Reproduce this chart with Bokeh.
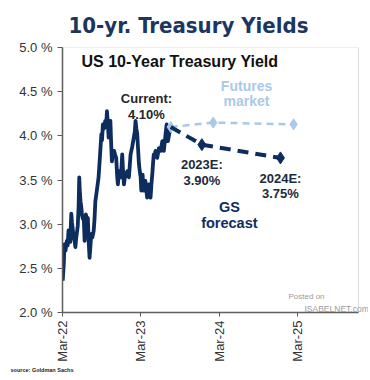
import pandas as pd
from bokeh.plotting import figure
from bokeh.models import (Range1d, FixedTicker, DatetimeTickFormatter, PrintfTickFormatter,
                          Label, ColumnDataSource, Title, BoxAnnotation)
from bokeh.embed import file_html
from bokeh.resources import INLINE
from math import pi

# ---------------- data ----------------
hist_dates = [
    "2022-03-02", "2022-03-07", "2022-03-10", "2022-03-15", "2022-03-21", "2022-03-25",
    "2022-03-29", "2022-04-02", "2022-04-06", "2022-04-11", "2022-04-14", "2022-04-17",
    "2022-04-22", "2022-04-27", "2022-04-30", "2022-05-04", "2022-05-07", "2022-05-11",
    "2022-05-15", "2022-05-18", "2022-05-21", "2022-05-24", "2022-05-28", "2022-05-31",
    "2022-06-04", "2022-06-08", "2022-06-12", "2022-06-15", "2022-06-18", "2022-06-22",
    "2022-06-27", "2022-07-01", "2022-07-05", "2022-07-09", "2022-07-13", "2022-07-18",
    "2022-07-24", "2022-07-28", "2022-08-01", "2022-08-08", "2022-08-16", "2022-08-22",
    "2022-08-29", "2022-09-01", "2022-09-05", "2022-09-10", "2022-09-16", "2022-09-20",
    "2022-09-24", "2022-09-28", "2022-10-02", "2022-10-06", "2022-10-10", "2022-10-13",
    "2022-10-17", "2022-10-22", "2022-10-27", "2022-11-02", "2022-11-06", "2022-11-11",
    "2022-11-14", "2022-11-19", "2022-11-27", "2022-12-01", "2022-12-04", "2022-12-08",
    "2022-12-12", "2022-12-16", "2022-12-20", "2022-12-28", "2023-01-04", "2023-01-08",
    "2023-01-12", "2023-01-20", "2023-01-27", "2023-02-01", "2023-02-04", "2023-02-08",
    "2023-02-12", "2023-02-16", "2023-02-20", "2023-02-24", "2023-02-28", "2023-03-03",
    "2023-03-09", "2023-03-14", "2023-03-18", "2023-03-22", "2023-03-26", "2023-03-30",
    "2023-04-03", "2023-04-07", "2023-04-11", "2023-04-15", "2023-04-19", "2023-04-23",
    "2023-04-27", "2023-04-30", "2023-05-04", "2023-05-08", "2023-05-16", "2023-05-24",
    "2023-06-01", "2023-06-09", "2023-06-16", "2023-06-24", "2023-06-29", "2023-07-05",
    "2023-07-13", "2023-07-18",
]
hist_yield = [
    2.36, 2.55, 2.77, 2.70, 2.81, 2.76,
    2.93, 2.84, 2.80, 3.12, 3.02, 2.96,
    2.85, 2.80, 2.74, 2.85, 2.90, 2.98,
    3.20, 3.53, 3.35, 3.26, 3.18, 3.10,
    3.06, 3.07, 2.81, 2.95, 3.11, 3.05,
    3.07, 2.80, 2.62, 2.75, 2.89, 2.85,
    2.92, 3.05, 3.26, 3.38, 3.53, 3.75,
    4.02, 3.95, 4.13, 4.08, 4.17, 4.10,
    4.28, 4.15, 3.98, 4.10, 4.17, 3.95,
    3.71, 3.80, 3.83, 3.78, 3.75, 3.53,
    3.45, 3.60, 3.53, 3.65, 3.79, 3.60,
    3.45, 3.52, 3.56, 3.60, 3.53, 3.65,
    3.79, 3.88, 3.98, 4.05, 4.17, 4.08,
    4.02, 3.85, 3.68, 3.60, 3.53, 3.38,
    3.56, 3.38, 3.44, 3.49, 3.40, 3.30,
    3.40, 3.45, 3.36, 3.30, 3.45, 3.56,
    3.70, 3.79, 3.76, 3.83, 3.75, 3.86,
    3.83, 3.94, 3.83, 4.02, 4.13, 3.94,
    4.05, 4.10,
]

futures_dates = ["2023-07-18", "2024-02-01", "2025-02-09"]
futures_yield = [4.10, 4.15, 4.13]

gs_dates = ["2023-07-18", "2023-12-10", "2024-12-10"]
gs_yield = [4.10, 3.90, 3.75]

tick_dates = ["2022-03-01", "2023-03-01", "2024-03-01", "2025-03-01"]
y_ticks = [2.0, 2.5, 3.0, 3.5, 4.0, 4.5, 5.0]

X_START, X_BOX_END, X_END = "2022-03-01", "2025-12-08", "2026-01-24"


def ms(d):
    return pd.Timestamp(d).timestamp() * 1000.0


NAVY = "#0e2d5f"
LIGHT = "#a9c9ea"
FONT = "Liberation Sans"

p = figure(width=368, height=378, x_axis_type="datetime", output_backend="svg",
           toolbar_location=None,
           x_range=Range1d(ms(X_START), ms(X_END)),
           y_range=Range1d(2.0, 5.0),
           min_border_left=62, min_border_right=0, min_border_top=46, min_border_bottom=66)

p.title = Title(text="10-yr. Treasury Yields", align="left", offset=6,
                text_font="DejaVu Sans Condensed, Liberation Sans", text_font_size="22px",
                text_font_style="bold", text_color="#1b365f", standoff=20)

p.add_layout(Title(text="source: Goldman Sachs", align="left", offset=-52,
                   text_font=FONT, text_font_size="5.5px", text_font_style="bold",
                   text_color="#222222", standoff=0), "below")

p.grid.visible = False
p.outline_line_color = None
p.background_fill_color = "white"
p.border_fill_color = "white"

# frame box (stops before the watermark area on the right)
p.add_layout(BoxAnnotation(left=ms(X_START), right=ms(X_BOX_END), bottom=2.0, top=5.0,
                           fill_alpha=0, line_color="#8c8c8c", line_width=1))

# axes
p.xaxis.ticker = FixedTicker(ticks=[ms(d) for d in tick_dates])
fmt = "%b-%y"
p.xaxis.formatter = DatetimeTickFormatter(years=fmt, months=fmt, days=fmt, hours=fmt,
                                          minutes=fmt, seconds=fmt, milliseconds=fmt,
                                          microseconds=fmt, minsec=fmt, hourmin=fmt)
p.xaxis.major_label_orientation = pi / 2
p.xaxis.major_label_text_font = FONT
p.xaxis.major_label_text_font_size = "13px"
p.xaxis.major_label_text_color = "#333333"
p.xaxis.major_tick_out = 4
p.xaxis.major_tick_in = 0
p.xaxis.minor_tick_out = 0
p.xaxis.minor_tick_in = 0
p.xaxis.major_label_standoff = 4
p.xaxis.axis_line_color = "#595959"
p.xaxis.axis_line_width = 1.5
p.xaxis.major_tick_line_color = "#595959"
p.xaxis.bounds = (ms(X_START), ms(X_BOX_END))

p.yaxis.ticker = FixedTicker(ticks=y_ticks)
p.yaxis.formatter = PrintfTickFormatter(format="%.1f %%")
p.yaxis.major_label_text_font = FONT
p.yaxis.major_label_text_font_size = "13px"
p.yaxis.major_label_text_color = "#333333"
p.yaxis.major_tick_out = 5
p.yaxis.major_tick_in = 0
p.yaxis.minor_tick_out = 0
p.yaxis.minor_tick_in = 0
p.yaxis.major_label_standoff = 5
p.yaxis.axis_line_color = "#595959"
p.yaxis.axis_line_width = 1.5
p.yaxis.major_tick_line_color = "#595959"

# series
hist = ColumnDataSource(dict(x=pd.to_datetime(hist_dates), y=hist_yield))
p.line("x", "y", source=hist, line_color=NAVY, line_width=3.8, line_join="round")

fut = ColumnDataSource(dict(x=pd.to_datetime(futures_dates), y=futures_yield))
p.line("x", "y", source=fut, line_color=LIGHT, line_width=2.5, line_dash="7 5")
p.scatter("x", "y", source=fut, marker="diamond", size=11, fill_color=LIGHT, line_color=LIGHT)

gs = ColumnDataSource(dict(x=pd.to_datetime(gs_dates[1:]), y=gs_yield[1:]))
gsl = ColumnDataSource(dict(x=pd.to_datetime(gs_dates), y=gs_yield))
p.line("x", "y", source=gsl, line_color=NAVY, line_width=4, line_dash="11 7")
p.scatter("x", "y", source=gs, marker="diamond", size=12, fill_color=NAVY, line_color=NAVY)


def lab(x, y, text, size, color, bold=True, align="center", xu="data", yu="data", font=FONT):
    p.add_layout(Label(x=x, y=y, x_units=xu, y_units=yu, text=text,
                       text_font=font, text_font_size=size, text_color=color,
                       text_font_style="bold" if bold else "normal",
                       text_align=align, text_baseline="alphabetic"))


lab(19, 251.5, "US 10-Year Treasury Yield", "16px", "#111111", align="left", xu="screen", yu="screen")
lab(ms("2023-03-27"), 4.42, "Current:", "13px", "#262626")
lab(ms("2023-03-27"), 4.24, "4.10%", "13px", "#262626")
lab(ms("2024-07-05"), 4.56, "Futures", "14px", LIGHT)
lab(ms("2024-07-05"), 4.39, "market", "14px", LIGHT)
lab(ms("2023-12-10"), 3.67, "2023E:", "13px", "#1c2a3e")
lab(ms("2023-12-10"), 3.50, "3.90%", "13px", "#1c2a3e")
lab(ms("2024-12-10"), 3.52, "2024E:", "13px", "#1c2a3e")
lab(ms("2024-12-10"), 3.35, "3.75%", "13px", "#1c2a3e")
lab(ms("2024-04-16"), 3.195, "GS", "14.5px", NAVY)
lab(ms("2024-04-16"), 3.015, "forecast", "14.5px", NAVY)
lab(226, 16, "Posted on", "8px", "#9a9a9a", bold=False, align="left", xu="screen", yu="screen")
lab(242, 4, "ISABELNET.com", "8.5px", "#9a9a9a", bold=False, align="left", xu="screen", yu="screen")

open("out.html", "w").write(file_html(p, INLINE))
